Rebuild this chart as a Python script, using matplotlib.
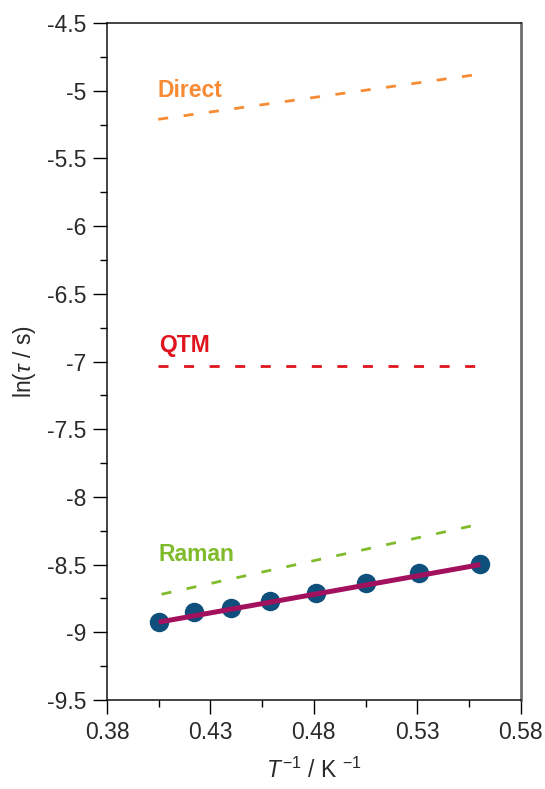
import numpy as np
import matplotlib
matplotlib.use("Agg")
import matplotlib.pyplot as plt
from matplotlib.ticker import MultipleLocator, FormatStrFormatter

plt.rcParams.update({
    "font.family": ["Liberation Sans", "DejaVu Sans"],
    "mathtext.fontset": "custom",
    "mathtext.rm": "Liberation Sans",
    "mathtext.it": "Liberation Sans:italic",
    "mathtext.bf": "Liberation Sans:bold",
})

# measured relaxation times
inv_T = [0.405, 0.422, 0.440, 0.459, 0.481, 0.505, 0.531, 0.5605]
ln_tau = [-8.922, -8.848, -8.823, -8.769, -8.708, -8.638, -8.564, -8.496]

# total fit and individual contributions (endpoints)
fit_x = [0.405, 0.5605]
fit_y = [-8.925, -8.500]
direct_x = [0.4048, 0.5605]
direct_y = [-5.211, -4.877]
qtm_x = [0.4048, 0.5605]
qtm_y = [-7.033, -7.033]
raman_x = [0.4064, 0.5605]
raman_y = [-8.719, -8.200]

labels = ["Direct", "QTM", "Raman"]
label_x = [0.4045, 0.4050, 0.4050]
label_y = [-4.995, -6.878, -8.429]
colors = ["#f68b33", "#e0141e", "#80bb2c"]

x_major = [0.38, 0.43, 0.48, 0.53, 0.58]
x_minor = [0.405, 0.455, 0.505, 0.555]

fig = plt.figure(figsize=(5.45, 7.89), dpi=100)
ax = fig.add_axes([0.1963, 0.1128, 0.9554 - 0.1963, 0.9708 - 0.1128])

dash = (3.6, 5.6)
for (xs, ys), c in zip([(direct_x, direct_y), (qtm_x, qtm_y), (raman_x, raman_y)], colors):
    ax.plot(xs, ys, color=c, lw=2.0, dashes=dash, dash_capstyle="butt")
for t, x, y, c in zip(labels, label_x, label_y, colors):
    ax.text(x, y, t, color=c, fontsize=16.5, fontweight="bold", ha="left", va="center")

ax.plot(inv_T, ln_tau, "o", ms=13, color="#0f4f7c", zorder=3)
ax.plot(fit_x, fit_y, "-", lw=3.6, color="#a3105e", zorder=4, solid_capstyle="butt")

ax.set_xlim(0.38, 0.58)
ax.set_ylim(-9.5, -4.5)
ax.set_xticks(x_major)
ax.set_xticks(x_minor, minor=True)
ax.yaxis.set_major_locator(MultipleLocator(0.5))
ax.yaxis.set_minor_locator(MultipleLocator(0.25))
ax.xaxis.set_major_formatter(FormatStrFormatter("%.2f"))
ax.yaxis.set_major_formatter(plt.FuncFormatter(lambda v, p: f"{v:g}"))

ax.tick_params(which="major", direction="out", length=10, width=1.0,
               labelsize=16.5, labelcolor="#2a2a2a", pad=5)
ax.tick_params(which="minor", direction="out", length=5, width=1.0)
ax.tick_params(top=False, right=False, which="both")

for s in ["left", "bottom", "top"]:
    ax.spines[s].set_linewidth(1.1)
    ax.spines[s].set_color("#111111")
ax.spines["right"].set_linewidth(2.0)
ax.spines["right"].set_color("#6e6e6e")

ax.set_ylabel(r"ln($\mathit{\tau}$ / s)", fontsize=16.5, color="#2a2a2a", labelpad=6)
ax.set_xlabel(r"$\mathit{T}$$^{\,\mathregular{-1}}$ / K $^{\mathregular{-1}}$",
              fontsize=16.5, color="#2a2a2a", labelpad=10)

fig.savefig("out.png", dpi=100)
